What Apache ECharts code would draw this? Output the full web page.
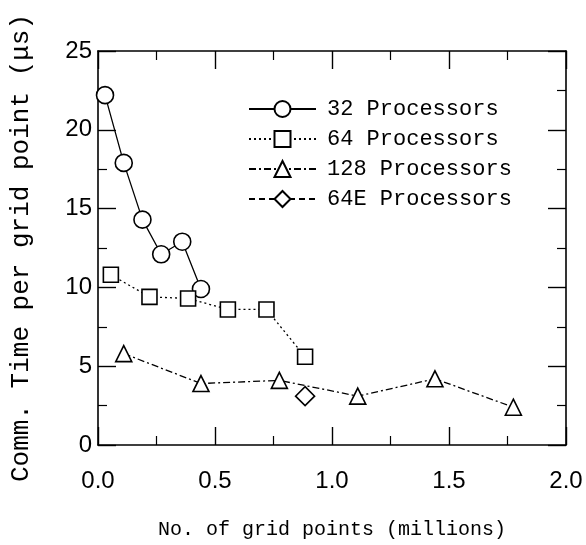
<!DOCTYPE html>
<html>
<head>
<meta charset="utf-8">
<script src="https://cdn.jsdelivr.net/npm/echarts@6/dist/echarts.min.js"></script>
<style>
  html, body { margin: 0; padding: 0; background: #fff; }
  #chart { width: 586px; height: 545px; }
</style>
</head>
<body>
<div id="chart"></div>
<script>
// values
const seriesNames = ['32 Processors', '64 Processors', '128 Processors', '64E Processors'];
const x32 = [0.03, 0.11, 0.19, 0.27, 0.36, 0.44];
const y32 = [22.2, 17.9, 14.3, 12.1, 12.9, 9.9];
const x64 = [0.055, 0.22, 0.385, 0.555, 0.72, 0.885];
const y64 = [10.8, 9.4, 9.3, 8.6, 8.6, 5.6];
const x128 = [0.11, 0.44, 0.775, 1.11, 1.44, 1.775];
const y128 = [5.8, 3.9, 4.1, 3.1, 4.2, 2.4];
const x64E = [0.885];
const y64E = [3.1];
const xTicks = [0, 0.5, 1.0, 1.5, 2.0];
const yTicks = [0, 5, 10, 15, 20, 25];

const monoFont = '"Liberation Mono", monospace';
const sansFont = '"Liberation Sans", sans-serif';

function pairs(xs, ys) {
    return xs.map((x, i) => [x, ys[i]]);
}

function axisCommon(extra) {
    return Object.assign({
        axisLine: { show: true, onZero: false, lineStyle: { color: '#000', width: 1.6 } },
        axisTick: { show: true, inside: true, length: 18, lineStyle: { color: '#000', width: 1.4 } },
        minorTick: { show: true, splitNumber: 2, length: 9, lineStyle: { color: '#000', width: 1.2 } },
        splitLine: { show: false },
        minorSplitLine: { show: false }
    }, extra);
}

const xMin = xTicks[0], xMax = xTicks[xTicks.length - 1];
const yMin = yTicks[0], yMax = yTicks[yTicks.length - 1];

let option = {
    backgroundColor: '#fff',
    animation: false,
    grid: { left: 86, right: 20, top: 51, bottom: 96 },
    legend: {
        orient: 'vertical',
        left: 243,
        top: 93,
        itemWidth: 67,
        itemHeight: 20,
        itemGap: 8,
        data: seriesNames,
        textStyle: {
            fontFamily: monoFont, fontSize: 22, color: '#000',
            lineHeight: 20, padding: [0, 0, 0, 6]
        }
    },
    xAxis: [
        axisCommon({
            type: 'value', position: 'bottom', min: xMin, max: xMax, interval: 0.5,
            name: 'No. of grid points (millions)',
            nameLocation: 'middle', nameGap: 75,
            nameTextStyle: { fontFamily: monoFont, fontSize: 20, color: '#000' },
            axisLabel: {
                margin: 24, fontFamily: sansFont, fontSize: 24, color: '#000',
                formatter: v => v.toFixed(1)
            }
        }),
        axisCommon({
            type: 'value', position: 'top', min: xMin, max: xMax, interval: 0.5,
            axisLabel: { show: false }
        })
    ],
    yAxis: [
        axisCommon({
            type: 'value', position: 'left', min: yMin, max: yMax, interval: 5,
            name: 'Comm. Time per grid point (\u03bcs)',
            nameLocation: 'middle', nameGap: 64, nameRotate: 90,
            nameTextStyle: { fontFamily: monoFont, fontSize: 26, color: '#000' },
            axisLabel: { margin: 6, fontFamily: sansFont, fontSize: 24, color: '#000' }
        }),
        axisCommon({
            type: 'value', position: 'right', min: yMin, max: yMax, interval: 5,
            axisLabel: { show: false }
        })
    ],
    series: [
        {
            name: seriesNames[0], type: 'line', data: pairs(x32, y32),
            symbol: 'circle', symbolSize: 17,
            lineStyle: { color: '#000', width: 1.3, type: 'solid' },
            itemStyle: { color: '#fff', borderColor: '#000', borderWidth: 1.6 }
        },
        {
            name: seriesNames[1], type: 'line', data: pairs(x64, y64),
            symbol: 'rect', symbolSize: 15,
            lineStyle: { color: '#000', width: 1.3, type: [2, 3] },
            itemStyle: { color: '#fff', borderColor: '#000', borderWidth: 1.6 }
        },
        {
            name: seriesNames[2], type: 'line', data: pairs(x128, y128),
            symbol: 'triangle', symbolSize: 16,
            lineStyle: { color: '#000', width: 1.3, type: [7, 3, 2, 3] },
            itemStyle: { color: '#fff', borderColor: '#000', borderWidth: 1.6 }
        },
        {
            name: seriesNames[3], type: 'line', data: pairs(x64E, y64E),
            symbol: 'diamond', symbolSize: 19,
            lineStyle: { color: '#000', width: 1.3, type: [6, 4] },
            itemStyle: { color: '#fff', borderColor: '#000', borderWidth: 1.6 }
        }
    ]
};

let myChart = echarts.init(document.getElementById('chart'), null, { renderer: 'canvas' });
myChart.setOption(option);
</script>
</body>
</html>
